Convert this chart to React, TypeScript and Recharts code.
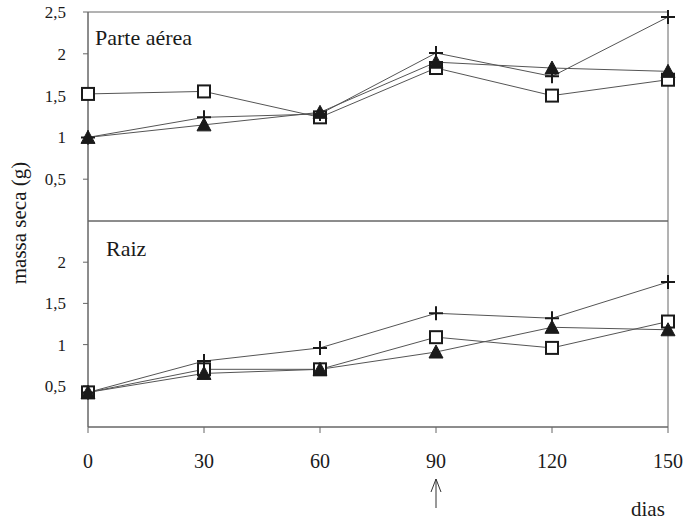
import React from 'react';
import { LineChart, Line, XAxis, YAxis, ReferenceLine } from 'recharts';

// dias após o plantio
const dias = [0, 30, 60, 90, 120, 150];

// parte aérea (massa seca, g)
const aereaQuadrado = [1.52, 1.55, 1.24, 1.83, 1.5, 1.69];
const aereaTriangulo = [1.0, 1.15, 1.3, 1.9, 1.83, 1.79];
const aereaCruz = [1.0, 1.24, 1.28, 2.01, 1.73, 2.44];

// raiz (massa seca, g)
const raizQuadrado = [0.42, 0.7, 0.7, 1.09, 0.96, 1.28];
const raizTriangulo = [0.42, 0.65, 0.7, 0.91, 1.21, 1.18];
const raizCruz = [0.42, 0.8, 0.96, 1.38, 1.32, 1.76];

const ticksAerea = [0.5, 1, 1.5, 2, 2.5];
const ticksRaiz = [0.5, 1, 1.5, 2];

const FONT = '"Liberation Serif", "Times New Roman", serif';
const LINE = '#555';
const INK = '#1a1a1a';
const AXIS = '#666';

const aereaData = dias.map((d, i) => ({
  dia: d,
  quadrado: aereaQuadrado[i],
  triangulo: aereaTriangulo[i],
  cruz: aereaCruz[i],
}));

const raizData = dias.map((d, i) => ({
  dia: d,
  quadrado: raizQuadrado[i],
  triangulo: raizTriangulo[i],
  cruz: raizCruz[i],
}));

const fmt = (v: number) => String(v).replace('.', ',');

function SquareDot(props: any) {
  const { cx, cy, index } = props;
  if (cx == null || cy == null) return <g key={`sq-${index}`} />;
  return (
    <rect key={`sq-${index}`} x={cx - 6} y={cy - 6} width={12} height={12}
      fill="#fff" stroke={INK} strokeWidth={2} />
  );
}

function TriangleDot(props: any) {
  const { cx, cy, index } = props;
  if (cx == null || cy == null) return <g key={`tr-${index}`} />;
  return (
    <path key={`tr-${index}`} d={`M${cx},${cy - 7} L${cx + 7},${cy + 6} L${cx - 7},${cy + 6} Z`}
      fill={INK} stroke={INK} strokeWidth={1} />
  );
}

function PlusDot(props: any) {
  const { cx, cy, index } = props;
  if (cx == null || cy == null) return <g key={`pl-${index}`} />;
  return (
    <path key={`pl-${index}`} d={`M${cx - 7},${cy} H${cx + 7} M${cx},${cy - 7} V${cy + 7}`}
      stroke={INK} strokeWidth={2} fill="none" />
  );
}

function DiasTick(props: any) {
  const { x, y, payload } = props;
  return (
    <g>
      <text x={x} y={y + 14} textAnchor="middle" fontFamily={FONT} fontSize={20} fill={INK}>
        {payload.value}
      </text>
      {payload.value === 90 && (
        <g stroke="#333" strokeWidth={1} fill="none">
          <line x1={x} y1={y + 25} x2={x} y2={y + 54} />
          <polyline points={`${x - 5},${y + 38} ${x},${y + 25} ${x + 5},${y + 38}`} />
        </g>
      )}
    </g>
  );
}

const yTick = { fontFamily: FONT, fontSize: 17, fill: INK };
const axisLine = { stroke: AXIS, strokeWidth: 1 };

function Series() {
  return [
    <Line key="q" dataKey="quadrado" stroke={LINE} strokeWidth={1} dot={SquareDot}
      activeDot={false} isAnimationActive={false} />,
    <Line key="t" dataKey="triangulo" stroke={LINE} strokeWidth={1} dot={TriangleDot}
      activeDot={false} isAnimationActive={false} />,
    <Line key="c" dataKey="cruz" stroke={LINE} strokeWidth={1} dot={PlusDot}
      activeDot={false} isAnimationActive={false} />,
  ];
}

function Frame(top: boolean) {
  const lines = [
    <ReferenceLine key="l" x={0} stroke={AXIS} strokeWidth={1} />,
    <ReferenceLine key="r" x={150} stroke={AXIS} strokeWidth={1} />,
    <ReferenceLine key="b" y={0} stroke={AXIS} strokeWidth={1} />,
  ];
  if (top) lines.push(<ReferenceLine key="t" y={2.5} stroke={AXIS} strokeWidth={1} />);
  return lines;
}

export default function App() {
  return (
    <div style={{ position: 'absolute', left: 0, top: 0, width: 686, height: 526, background: '#fff', fontFamily: FONT }}>
      {/* painel inferior: raiz */}
      <div style={{ position: 'absolute', left: 0, top: 0 }}>
        <LineChart width={686} height={526} data={raizData}
          margin={{ top: 221, right: 18, left: 0, bottom: 4 }}>
          <XAxis dataKey="dia" type="number" domain={[0, 150]} ticks={dias}
            height={95} axisLine={axisLine} tickLine={{ stroke: AXIS }} tickSize={6} tickMargin={21} tick={DiasTick} />
          <YAxis type="number" domain={[0, 2.5]} ticks={ticksRaiz} width={88}
            axisLine={axisLine} tickLine={{ stroke: AXIS }} tickSize={5} tickMargin={17} tick={yTick} tickFormatter={fmt} />
          {Frame(false)}
          {Series()}
        </LineChart>
      </div>
      {/* painel superior: parte aérea */}
      <div style={{ position: 'absolute', left: 0, top: 0 }}>
        <LineChart width={686} height={230} data={aereaData}
          margin={{ top: 12, right: 18, left: 0, bottom: 8 }}>
          <XAxis dataKey="dia" type="number" domain={[0, 150]} ticks={dias}
            height={1} axisLine={axisLine} tick={false} tickLine={false} />
          <YAxis type="number" domain={[0, 2.5]} ticks={ticksAerea} width={88}
            axisLine={axisLine} tickLine={{ stroke: AXIS }} tickSize={5} tickMargin={17} tick={yTick} tickFormatter={fmt} />
          {Frame(true)}
          {Series()}
        </LineChart>
      </div>
      <div style={{ position: 'absolute', left: 95, top: 25, fontSize: 22, color: INK }}>Parte aérea</div>
      <div style={{ position: 'absolute', left: 106, top: 236, fontSize: 22, color: INK }}>Raiz</div>
      <div style={{ position: 'absolute', left: 631, top: 497, fontSize: 21, color: INK }}>dias</div>
      <div style={{
        position: 'absolute', left: 19, top: 223, fontSize: 21, color: INK, whiteSpace: 'nowrap',
        transform: 'translate(-50%, -50%) rotate(-90deg)',
      }}>massa seca (g)</div>
    </div>
  );
}
